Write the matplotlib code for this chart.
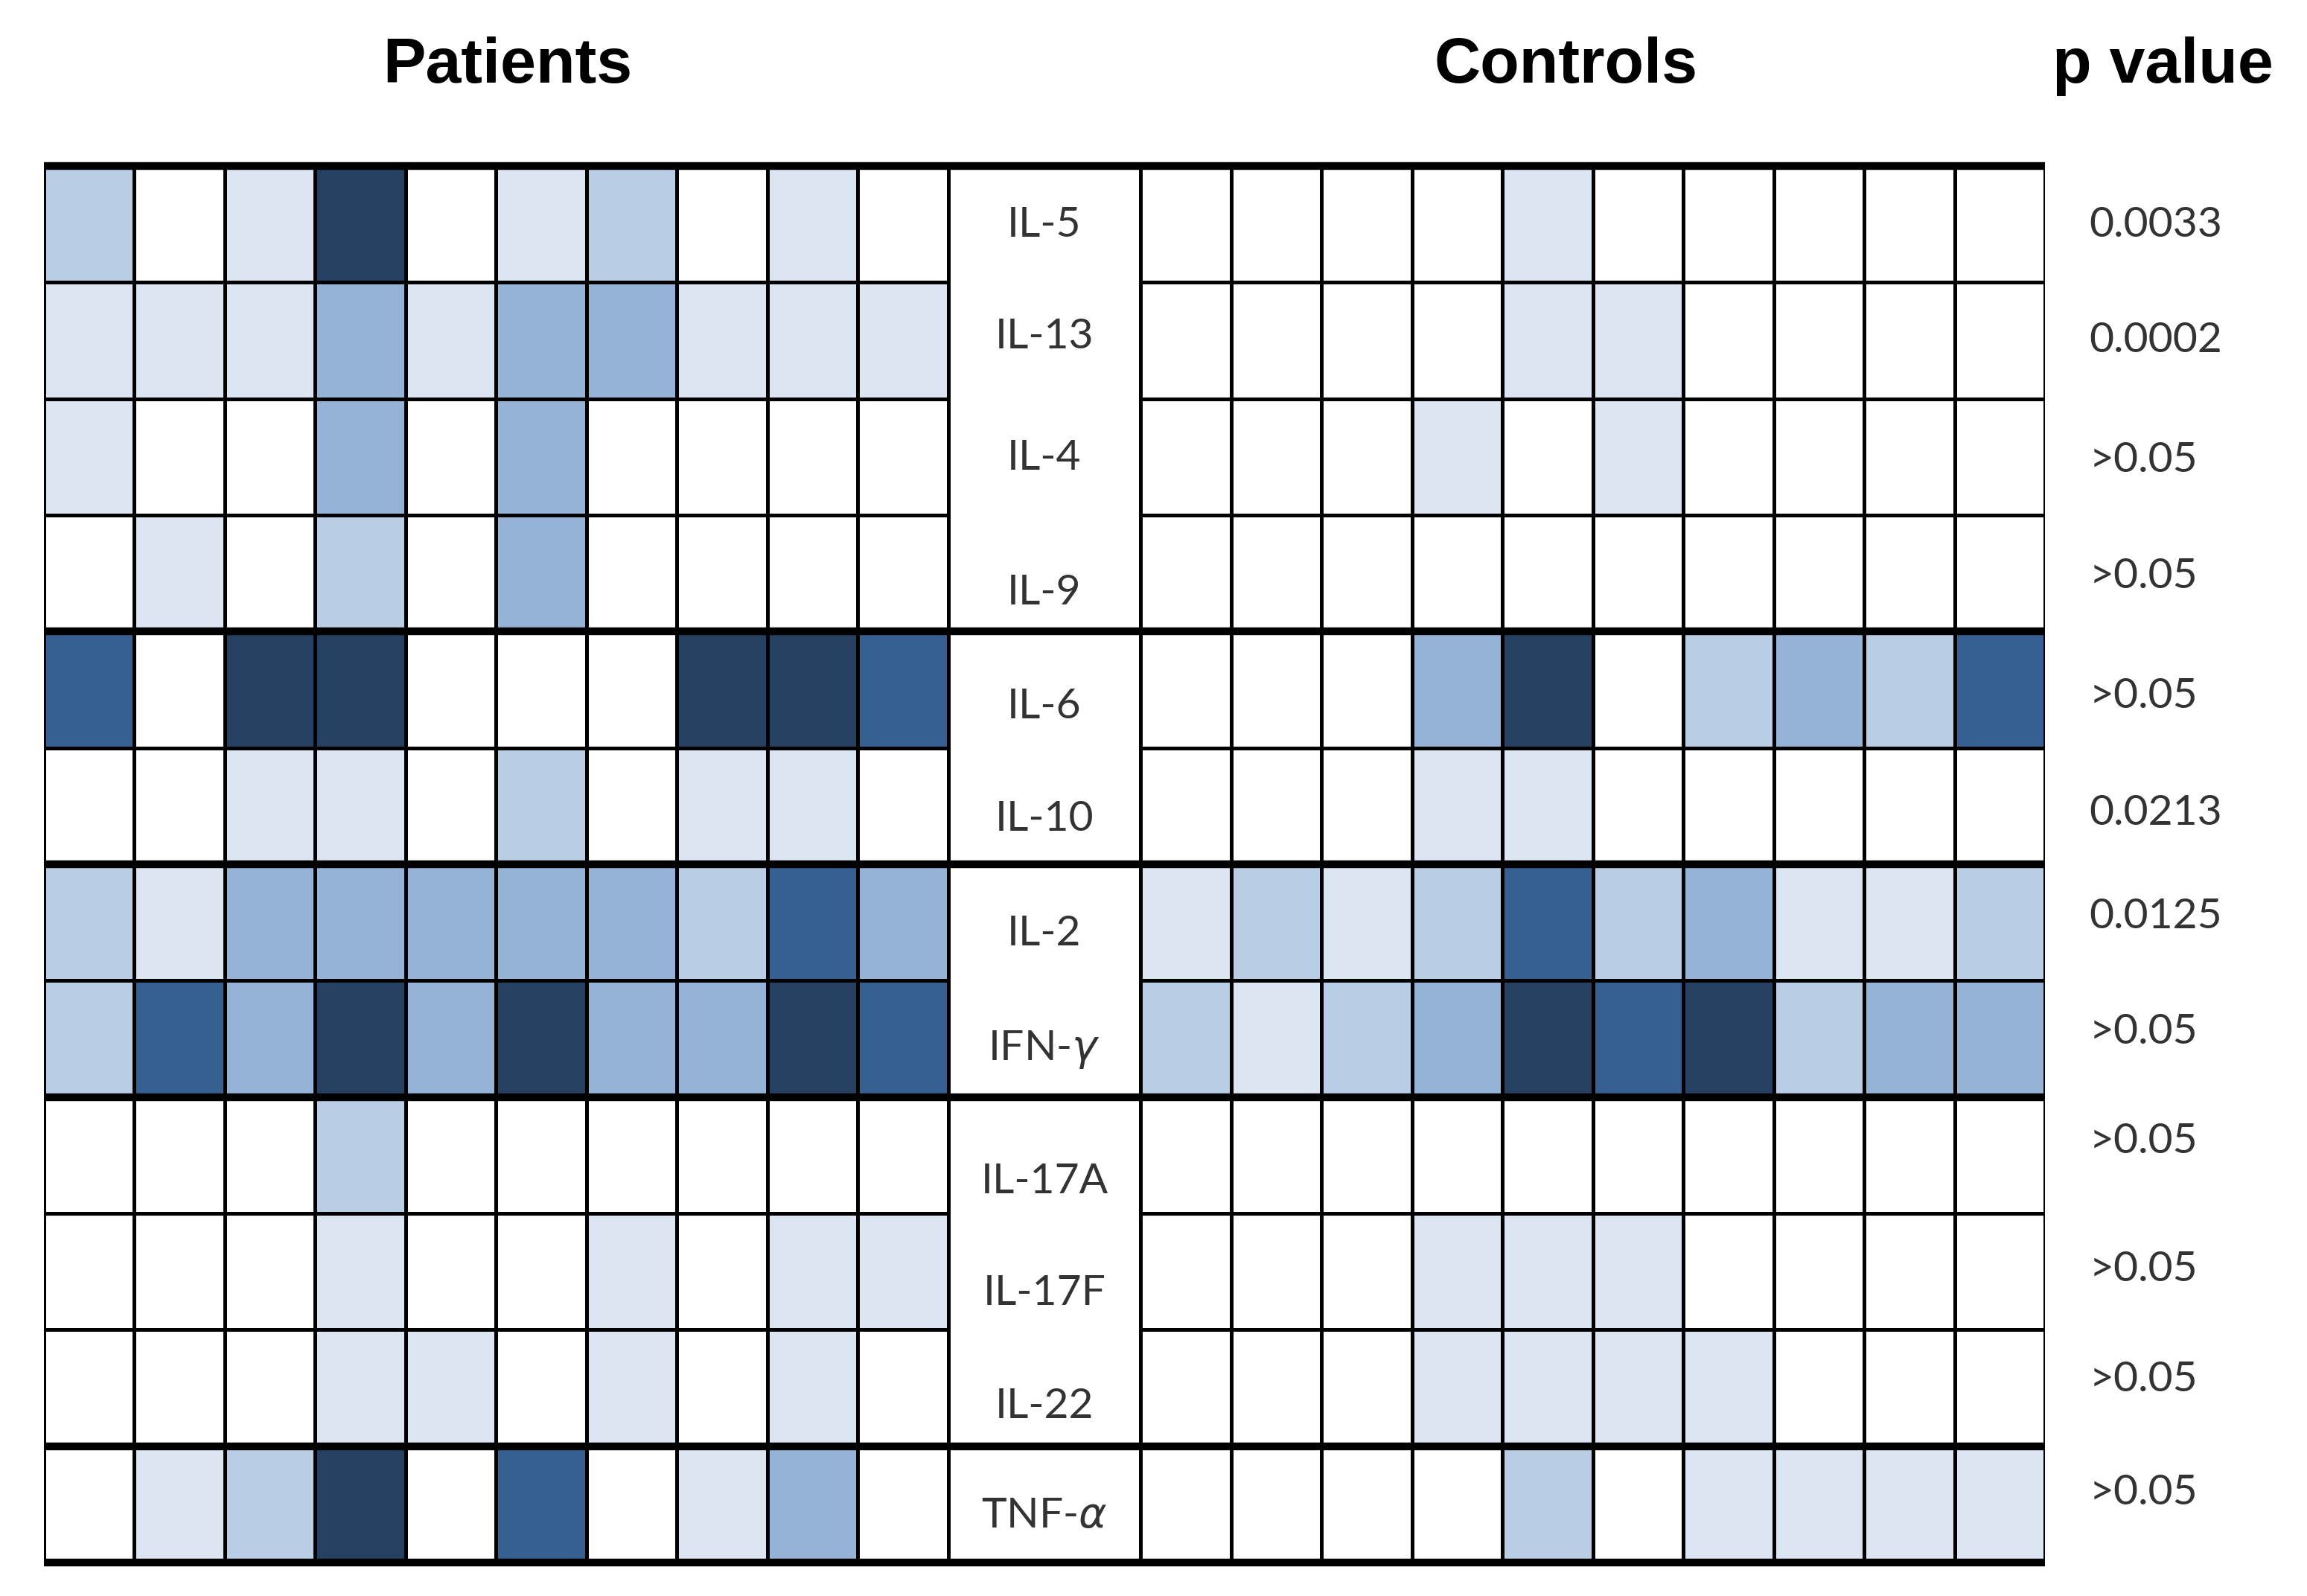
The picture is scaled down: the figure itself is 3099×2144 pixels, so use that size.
import numpy as np
import matplotlib
matplotlib.use('Agg')
import matplotlib.pyplot as plt
from matplotlib.colors import ListedColormap, BoundaryNorm

# Cytokine rows (top to bottom)
cytokines = ['IL-5', 'IL-13', 'IL-4', 'IL-9', 'IL-6', 'IL-10',
             'IL-2', 'IFN-$\\gamma$', 'IL-17A', 'IL-17F', 'IL-22', 'TNF-$\\alpha$']
p_values = ['0.0033', '0.0002', '>0.05', '>0.05', '>0.05', '0.0213',
            '0.0125', '>0.05', '>0.05', '>0.05', '>0.05', '>0.05']

# Expression level per subject (0 = none ... 5 = highest)
patients = [
    [2, 0, 1, 5, 0, 1, 2, 0, 1, 0],
    [1, 1, 1, 3, 1, 3, 3, 1, 1, 1],
    [1, 0, 0, 3, 0, 3, 0, 0, 0, 0],
    [0, 1, 0, 2, 0, 3, 0, 0, 0, 0],
    [4, 0, 5, 5, 0, 0, 0, 5, 5, 4],
    [0, 0, 1, 1, 0, 2, 0, 1, 1, 0],
    [2, 1, 3, 3, 3, 3, 3, 2, 4, 3],
    [2, 4, 3, 5, 3, 5, 3, 3, 5, 4],
    [0, 0, 0, 2, 0, 0, 0, 0, 0, 0],
    [0, 0, 0, 1, 0, 0, 1, 0, 1, 1],
    [0, 0, 0, 1, 1, 0, 1, 0, 1, 0],
    [0, 1, 2, 5, 0, 4, 0, 1, 3, 0],
]
controls = [
    [0, 0, 0, 0, 1, 0, 0, 0, 0, 0],
    [0, 0, 0, 0, 1, 1, 0, 0, 0, 0],
    [0, 0, 0, 1, 0, 1, 0, 0, 0, 0],
    [0, 0, 0, 0, 0, 0, 0, 0, 0, 0],
    [0, 0, 0, 3, 5, 0, 2, 3, 2, 4],
    [0, 0, 0, 1, 1, 0, 0, 0, 0, 0],
    [1, 2, 1, 2, 4, 2, 3, 1, 1, 2],
    [2, 1, 2, 3, 5, 4, 5, 2, 3, 3],
    [0, 0, 0, 0, 0, 0, 0, 0, 0, 0],
    [0, 0, 0, 1, 1, 1, 0, 0, 0, 0],
    [0, 0, 0, 1, 1, 1, 1, 0, 0, 0],
    [0, 0, 0, 0, 2, 0, 1, 1, 1, 1],
]
# rows after which a group separator (thick line) is drawn
group_breaks = [0, 4, 6, 8, 11, 12]

palette = ['#ffffff', '#dce6f2', '#b9cde5', '#95b3d7', '#376092', '#254061']
cmap = ListedColormap(palette)
norm = BoundaryNorm(np.arange(-0.5, 6.5, 1), cmap.N)

# layout (column units)
n_rows = len(cytokines)
label_w = 2.13
x_ctrl = 10 + label_w
x_end = x_ctrl + 10

label_dy = [0.01, -0.03, 0.01, 0.17, 0.15, 0.11, 0.10, 0.09, 0.23, 0.19, 0.16, 0.10]
p_dy = [0.01, 0.0, 0.03, 0.03, 0.06, 0.06, -0.05, -0.06, -0.12, -0.02, -0.07, -0.10]

fig = plt.figure(figsize=(30.99, 21.44), dpi=100)
ax = fig.add_axes([59 / 3099, 1 - 2099 / 2144, (2747 - 59) / 3099, (2099 - 223) / 2144])
ax.set_xlim(0, x_end)
ax.set_ylim(n_rows, 0)
ax.axis('off')

rows_edges = np.arange(n_rows + 1)
ax.pcolormesh(np.arange(11), rows_edges, np.array(patients), cmap=cmap, norm=norm,
              edgecolors='black', linewidth=2.3)
ax.pcolormesh(x_ctrl + np.arange(11), rows_edges, np.array(controls), cmap=cmap, norm=norm,
              edgecolors='black', linewidth=2.3)

# thick group separators across the whole table
ax.hlines(group_breaks, 0, x_end, colors='black', linewidth=7.5, clip_on=False)

lab_font = dict(family='Lato', color='#333333', fontsize=41)
for i, name in enumerate(cytokines):
    ax.text(10 + label_w / 2, i + 0.5 + label_dy[i], name, ha='center', va='center', **lab_font)
    ax.text(x_end + 0.49, i + 0.5 + p_dy[i], p_values[i], ha='left', va='center',
            clip_on=False, **lab_font)

title_font = dict(family='Liberation Sans', fontweight='bold', fontsize=62, color='black')
fig.text(682 / 3099, 1 - 89 / 2144, 'Patients', ha='center', va='center', **title_font)
fig.text(2104 / 3099, 1 - 89 / 2144, 'Controls', ha='center', va='center', **title_font)
fig.text(2905 / 3099, 1 - 89 / 2144, 'p value', ha='center', va='center', **title_font)

fig.savefig('out.png', dpi=100)
